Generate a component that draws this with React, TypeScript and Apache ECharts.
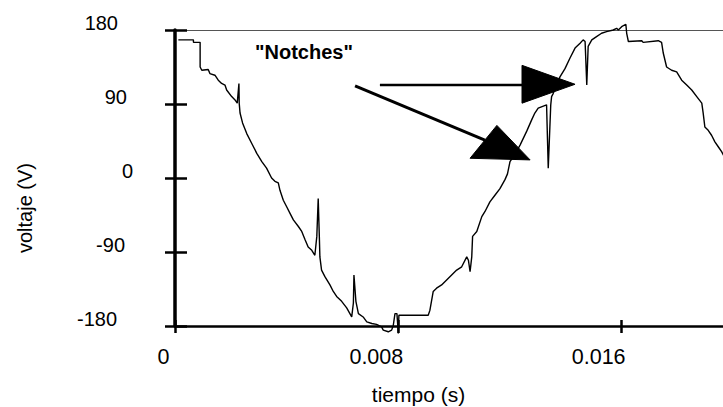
import React, { useEffect, useRef } from 'react';
import * as echarts from 'echarts';

// waveform samples: time (s) and voltage (V)
const timeS = [
  0.00012, 0.00066, 0.00066, 0.0009, 0.0009, 0.00096, 0.00119, 0.00125, 0.00143, 0.00155,
  0.00167, 0.00179, 0.00185, 0.00203, 0.00215, 0.00223, 0.00229, 0.0023, 0.00233, 0.00242,
  0.00257, 0.00275, 0.00293, 0.00311, 0.00328, 0.00346, 0.00358, 0.0037, 0.00376, 0.00388,
  0.004, 0.00412, 0.00424, 0.00442, 0.00454, 0.00466, 0.00477, 0.0049, 0.00501, 0.00508,
  0.00513, 0.00517, 0.00519, 0.00525, 0.00537, 0.00555, 0.00567, 0.00579, 0.00597, 0.00615,
  0.00633, 0.00639, 0.00641, 0.00648, 0.00657, 0.00674, 0.00687, 0.00705, 0.00722, 0.0074,
  0.00746, 0.00764, 0.00776, 0.00782, 0.00788, 0.00795, 0.008, 0.00802, 0.00907, 0.00913,
  0.00925, 0.00937, 0.00955, 0.00973, 0.00991, 0.01009, 0.01027, 0.01045, 0.01051, 0.01057,
  0.01063, 0.01066, 0.01081, 0.01099, 0.0111, 0.01128, 0.01146, 0.01164, 0.01182, 0.01191,
  0.012, 0.01218, 0.01236, 0.0126, 0.01278, 0.01289, 0.01301, 0.01331, 0.01337, 0.01346,
  0.01349, 0.01355, 0.01379, 0.01397, 0.01415, 0.01433, 0.01451, 0.01462, 0.01469, 0.01475,
  0.0148, 0.01493, 0.0151, 0.01528, 0.01546, 0.0157, 0.01582, 0.01588, 0.016, 0.01615,
  0.01618, 0.01624, 0.01672, 0.01677, 0.01731, 0.01743, 0.01749, 0.01761, 0.01779, 0.01797,
  0.01815, 0.01833, 0.01851, 0.01869, 0.01887, 0.01892, 0.01898, 0.0191, 0.01922, 0.01934,
  0.01946, 0.01958, 0.01966,
];
const voltV = [
  168, 168, 165, 165, 135, 131, 132, 127, 125, 119,
  115, 113, 107, 99, 95, 91, 115, 91, 79, 67,
  54, 42, 30, 20, 12, 0, -4, -6, -15, -27,
  -35, -43, -51, -59, -65, -75, -84, -88, -94, -71,
  -25, -71, -96, -112, -120, -130, -138, -144, -150, -158,
  -169, -152, -118, -150, -165, -169, -175, -177, -178, -181,
  -185, -187, -185, -179, -165, -165, -189, -167, -167, -161,
  -138, -134, -130, -124, -118, -112, -108, -96, -100, -114,
  -96, -71, -65, -47, -41, -29, -21, -13, -2, 5,
  20, 29, 40, 57, 71, 79, 85, 89, 12, 89,
  99, 103, 123, 133, 146, 158, 164, 168, 166, 113,
  160, 168, 172, 176, 178, 180, 182, 180, 184, 187,
  176, 166, 167, 165, 167, 165, 152, 135, 131, 129,
  119, 113, 107, 99, 91, 79, 62, 58, 52, 44,
  38, 32, 27,
];

const xMin = 0;
const xMax = 0.01963;
const yMin = -180;
const yMax = 180;
const xTickValues = [0, 0.008, 0.016];
const xTickLabels = ['0', '0.008', '0.016'];
const yTickValues = [-180, -90, 0, 90, 180];
const yTickLabels = ['-180', '-90', '0', '90', '180'];

const xTitle = 'tiempo (s)';
const yTitle = 'voltaje (V)';
const noteText = '"Notches"';

// annotation anchors in data space (time s, volt V)
const noteAt = [0.00462, 153];
const arrow1Line = [[0.00734, 113], [0.01243, 113]];
const arrow1Head = [[0.01243, 137], [0.01243, 91], [0.01433, 114]];
const arrow2Line = [[0.00645, 112], [0.0111, 46]];
const arrow2Head = [[0.01153, 64], [0.01057, 24], [0.01272, 22]];

const FONT = '"Liberation Sans", Arial, Helvetica, sans-serif';

// per-label nudges (style only)
const yLabelPadRight: Record<string, number> = { '-180': 16, '-90': 8, '0': 0, '90': 6, '180': 15 };
const xLabelPadRight: Record<string, number> = { '0': 23, '0.008': 44, '0.016': 46 };

export default function App() {
  const ref = useRef<HTMLDivElement>(null);

  useEffect(() => {
    if (!ref.current) return;
    const chart = echarts.init(ref.current, null, { renderer: 'svg' });

    const yRich: Record<string, any> = {};
    yTickLabels.forEach((l, i) => {
      yRich['y' + i] = {
        fontSize: 20,
        fontFamily: FONT,
        color: '#000',
        lineHeight: 20,
        padding: [0, yLabelPadRight[l] || 0, 14, 0],
      };
    });
    const xRich: Record<string, any> = {};
    xTickLabels.forEach((l, i) => {
      xRich['x' + i] = {
        fontSize: 21.5,
        fontFamily: FONT,
        color: '#000',
        lineHeight: 21.5,
        padding: [0, xLabelPadRight[l] || 0, 0, 0],
      };
    });

    const yFormatter = (v: number) => {
      const i = yTickValues.findIndex((t) => Math.abs(t - v) < 1e-9);
      return i < 0 ? '' : `{y${i}|${yTickLabels[i]}}`;
    };
    const xFormatter = (v: number) => {
      const i = xTickValues.findIndex((t) => Math.abs(t - v) < 1e-9);
      return i < 0 ? '' : `{x${i}|${xTickLabels[i]}}`;
    };

    const option: any = {
      animation: false,
      backgroundColor: '#fff',
      grid: { left: 175, right: 0, top: 30, height: 296, containLabel: false },
      xAxis: [
        {
          type: 'value',
          min: xMin,
          max: xMax,
          position: 'bottom',
          axisLine: { show: true, onZero: false, lineStyle: { color: '#000', width: 2.5 } },
          axisTick: { show: false },
          splitLine: { show: false },
          axisLabel: {
            show: true,
            customValues: xTickValues,
            formatter: xFormatter,
            margin: 20,
            rich: xRich,
          },
        },
        {
          type: 'value',
          min: xMin,
          max: xMax,
          position: 'bottom',
          offset: -6,
          axisLine: { show: false, onZero: false },
          axisTick: {
            show: true,
            customValues: xTickValues,
            length: 13,
            lineStyle: { color: '#000', width: 2.5 },
          },
          axisLabel: { show: false },
          splitLine: { show: false },
        },
        {
          type: 'value',
          min: xMin,
          max: xMax,
          position: 'top',
          axisLine: { show: true, onZero: false, lineStyle: { color: '#555', width: 1 } },
          axisTick: { show: false },
          axisLabel: { show: false },
          splitLine: { show: false },
        },
      ],
      yAxis: [
        {
          type: 'value',
          min: yMin,
          max: yMax,
          interval: 90,
          position: 'left',
          axisLine: { show: true, onZero: false, lineStyle: { color: '#000', width: 3.5 } },
          axisTick: { show: false },
          splitLine: { show: false },
          axisLabel: {
            show: true,
            customValues: yTickValues,
            formatter: yFormatter,
            margin: 42,
            align: 'right',
            rich: yRich,
          },
        },
        {
          type: 'value',
          min: yMin,
          max: yMax,
          interval: 90,
          position: 'left',
          offset: -12,
          axisLine: { show: false, onZero: false },
          axisTick: {
            show: true,
            customValues: yTickValues,
            length: 22,
            lineStyle: { color: '#000', width: 2.5 },
          },
          axisLabel: { show: false },
          splitLine: { show: false },
        },
      ],
      series: [
        {
          type: 'line',
          xAxisIndex: 0,
          yAxisIndex: 0,
          data: timeS.map((t, i) => [t, voltV[i]]),
          showSymbol: false,
          symbol: 'none',
          clip: false,
          lineStyle: { color: '#000', width: 1.4 },
          z: 3,
        },
      ],
    };
    chart.setOption(option);

    const px = (p: number[]) => chart.convertToPixel({ seriesIndex: 0 }, p) as number[];
    const n = px(noteAt);
    const a1a = px(arrow1Line[0]);
    const a1b = px(arrow1Line[1]);
    const a2a = px(arrow2Line[0]);
    const a2b = px(arrow2Line[1]);

    chart.setOption({
      graphic: [
        {
          type: 'text',
          x: 24.5,
          y: 208,
          rotation: Math.PI / 2,
          z: 100,
          style: {
            text: yTitle,
            fontSize: 20,
            fontFamily: FONT,
            fill: '#000',
            align: 'center',
            verticalAlign: 'middle',
          },
        },
        {
          type: 'text',
          x: 418.5,
          y: 394,
          z: 100,
          style: {
            text: xTitle,
            fontSize: 21,
            fontFamily: FONT,
            fill: '#000',
            align: 'center',
            verticalAlign: 'middle',
          },
        },
        {
          type: 'text',
          x: n[0],
          y: n[1],
          z: 100,
          style: {
            text: noteText,
            fontSize: 20,
            fontWeight: 'bold',
            fontFamily: FONT,
            fill: '#000',
            align: 'center',
            verticalAlign: 'middle',
          },
        },
        {
          type: 'line',
          z: 100,
          shape: { x1: a1a[0], y1: a1a[1], x2: a1b[0], y2: a1b[1] },
          style: { stroke: '#000', lineWidth: 2.5 },
        },
        {
          type: 'polygon',
          z: 100,
          shape: { points: arrow1Head.map(px) },
          style: { fill: '#000', stroke: '#000', lineWidth: 1 },
        },
        {
          type: 'line',
          z: 100,
          shape: { x1: a2a[0], y1: a2a[1], x2: a2b[0], y2: a2b[1] },
          style: { stroke: '#000', lineWidth: 3 },
        },
        {
          type: 'polygon',
          z: 100,
          shape: { points: arrow2Head.map(px) },
          style: { fill: '#000', stroke: '#000', lineWidth: 1 },
        },
      ],
    });

    return () => chart.dispose();
  }, []);

  return (
    <div
      ref={ref}
      style={{ position: 'fixed', left: 0, top: 0, width: 723, height: 407, background: '#fff' }}
    />
  );
}
